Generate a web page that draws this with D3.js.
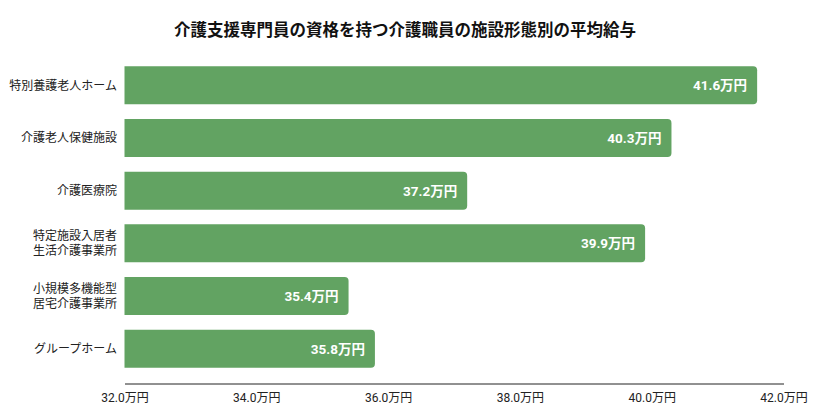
<!DOCTYPE html>
<html>
<head>
<meta charset="utf-8">
<script src="https://cdn.jsdelivr.net/npm/d3@7"></script>
<style>
  body { margin: 0; background: #fff; }
  text { font-family: Roboto, "Noto Sans CJK JP", sans-serif; }
</style>
</head>
<body>
<div id="chart"></div>
<script>
// data
var categories = [
    ["特別養護老人ホーム"],
    ["介護老人保健施設"],
    ["介護医療院"],
    ["特定施設入居者", "生活介護事業所"],
    ["小規模多機能型", "居宅介護事業所"],
    ["グループホーム"]
];
var values = [41.6, 40.3, 37.2, 39.9, 35.4, 35.8];
var xTicks = [32, 34, 36, 38, 40, 42];
var title = "介護支援専門員の資格を持つ介護職員の施設形態別の平均給与";

var w = 813, h = 410;
var left = 124.5, right = 783.5;

var svg = d3.select("#chart").append("svg")
    .attr("width", w)
    .attr("height", h);

var x = d3.scaleLinear().domain([32, 42]).range([left, right]);
var y = d3.scaleBand()
    .domain(d3.range(categories.length))
    .range([59, 375])
    .paddingInner(0.28)
    .paddingOuter(0.14);

svg.append("text")
    .attr("x", 405)
    .attr("y", 35.5)
    .attr("text-anchor", "middle")
    .attr("font-size", 16.5)
    .attr("font-weight", "bold")
    .attr("fill", "#111")
    .text(title);

// bars with rounded right corners
function barPath(x0, x1, y0, bh, r) {
    return "M" + x0 + "," + y0 +
        "H" + (x1 - r) +
        "Q" + x1 + "," + y0 + " " + x1 + "," + (y0 + r) +
        "V" + (y0 + bh - r) +
        "Q" + x1 + "," + (y0 + bh) + " " + (x1 - r) + "," + (y0 + bh) +
        "H" + x0 + "Z";
}

svg.append("g")
    .selectAll("path")
    .data(values)
    .enter()
    .append("path")
        .attr("d", function(d, i) { return barPath(x(32), x(d), y(i), y.bandwidth(), 4); })
        .attr("fill", "#62a362");

svg.append("g")
    .selectAll("text")
    .data(values)
    .enter()
    .append("text")
        .attr("x", function(d) { return x(d) - 10; })
        .attr("y", function(d, i) { return y(i) + y.bandwidth() / 2; })
        .attr("dy", "0.36em")
        .attr("text-anchor", "end")
        .attr("font-size", 13.5)
        .attr("font-weight", "bold")
        .attr("fill", "#fff")
        .text(function(d) { return d.toFixed(1) + "万円"; });

// category labels
var cat = svg.append("g")
    .selectAll("text")
    .data(categories)
    .enter()
    .append("text")
        .attr("text-anchor", "end")
        .attr("font-size", 12)
        .attr("fill", "#222")
        .attr("y", function(d, i) { return y(i) + y.bandwidth() / 2; });
cat.each(function(d) {
    var t = d3.select(this);
    d.forEach(function(line, j) {
        t.append("tspan")
            .attr("x", 117)
            .attr("dy", j == 0 ? (0.36 - (d.length - 1) * 0.6) + "em" : "1.2em")
            .text(line);
    });
});

// x axis
var xAxis = d3.axisBottom(x)
    .tickValues(xTicks)
    .tickSize(0)
    .tickPadding(10)
    .tickFormat(function(d) { return d.toFixed(1) + "万円"; });
var ax = svg.append("g")
    .attr("transform", "translate(0,383.5)")
    .call(xAxis);
ax.select(".domain").attr("stroke", "#222").attr("stroke-width", 1);
ax.selectAll("text")
    .attr("font-size", 12)
    .attr("fill", "#222")
    .style("font-family", "Roboto, 'Noto Sans CJK JP', sans-serif");
</script>
</body>
</html>
